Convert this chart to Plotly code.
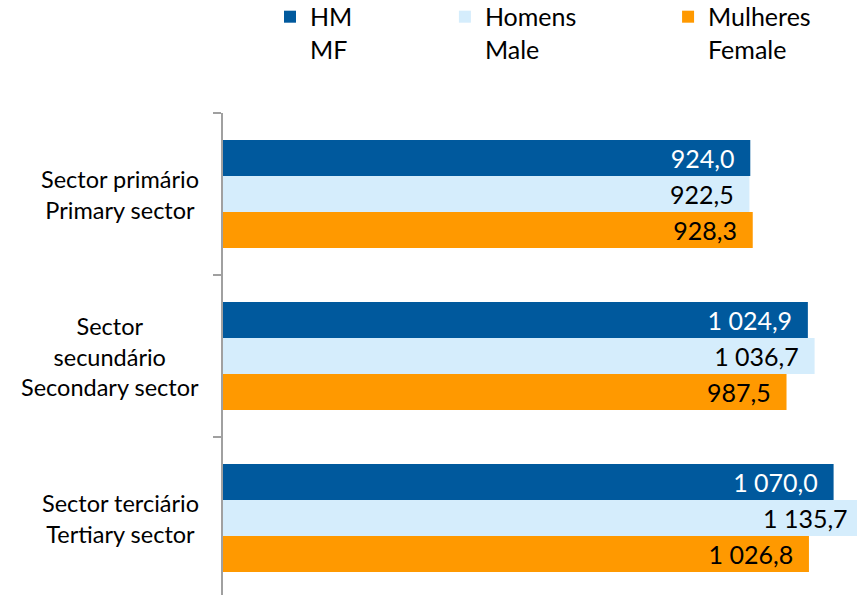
import plotly.graph_objects as go

categories = ["Sector primário<br>Primary sector",
              "Sector<br>secundário<br>Secondary sector",
              "Sector terciário<br>Tertiary sector"]
series_names = ["HM<br>MF", "Homens<br>Male", "Mulheres<br>Female"]
hm = [924.0, 1024.9, 1070.0]
homens = [922.5, 1036.7, 1135.7]
mulheres = [928.3, 987.5, 1026.8]

colors = ["#00599D", "#D5EDFC", "#FF9900"]
text_colors = ["white", "black", "black"]
FONT = "Lato"
X_MAX = 1111      # visible axis end; longer bars are clipped by the frame
BARGAP = 0.333
CAT_PX = 162      # pixel height of one category band (482 px / 2.975)


def fmt(v):
    return f"{v:,.1f}".replace(",", " ").replace(".", ",")


fig = go.Figure()
legend_ids = ["legend", "legend2", "legend3"]
n = len(series_names)
bar_px = CAT_PX * (1 - BARGAP) / n
for i, (name, vals, col, tcol, lg) in enumerate(
        zip(series_names, [hm, homens, mulheres], colors, text_colors, legend_ids)):
    # labels of bars clipped by the frame are drawn at the visible end instead
    texts = ["" if v > X_MAX else fmt(v) + "\u00a0\u00a0" for v in vals]
    fig.add_trace(go.Bar(
        y=categories, x=vals, name=name, orientation="h",
        text=texts, textposition="inside", insidetextanchor="end",
        marker=dict(color=col, line=dict(width=0)),
        textfont=dict(family=FONT, size=25, color=tcol),
        legend=lg, hoverinfo="x+name",
    ))
    offset = -(i - (n - 1) / 2) * bar_px   # reversed axis: later bars lower
    for cat, v in zip(categories, vals):
        if v > X_MAX:
            fig.add_annotation(x=X_MAX, xref="x", y=cat, yref="y",
                               xanchor="right", xshift=-7,
                               yanchor="middle", yshift=offset,
                               text=fmt(v), showarrow=False,
                               font=dict(family=FONT, size=25, color=tcol))

for cat in categories:
    fig.add_annotation(x=0, xref="paper", xanchor="right", xshift=-22,
                       y=cat, yref="y", yanchor="middle", text=cat,
                       showarrow=False, align="center",
                       font=dict(family=FONT, size=23.5, color="black"))

leg_common = dict(orientation="h", yanchor="top", y=1.247, xanchor="left",
                  valign="top", bgcolor="rgba(0,0,0,0)",
                  font=dict(family=FONT, size=25, color="black"))
fig.update_layout(
    width=857, height=595,
    margin=dict(l=223, r=0, t=113, b=0, autoexpand=False),
    paper_bgcolor="white", plot_bgcolor="white",
    showlegend=True,
    barmode="group", bargap=BARGAP, bargroupgap=0,
    separators=", ",
    uniformtext=dict(mode=False),
    legend=dict(x=0.0741, **leg_common),
    legend2=dict(x=0.350, **leg_common),
    legend3=dict(x=0.702, **leg_common),
    xaxis=dict(range=[0, X_MAX], visible=False, showgrid=False, automargin=False),
    yaxis=dict(type="category", range=[2.475, -0.5], showticklabels=False,
               showgrid=False, zeroline=False, automargin=False,
               showline=True, linecolor="#A0A0A0", linewidth=2,
               ticks="outside", tickson="boundaries", ticklen=8,
               tickcolor="#A0A0A0", tickwidth=2),
)

fig.write_html("out.html", config={"displayModeBar": False},
               post_script="document.body.style.margin='0px';document.body.style.overflow='hidden';")
